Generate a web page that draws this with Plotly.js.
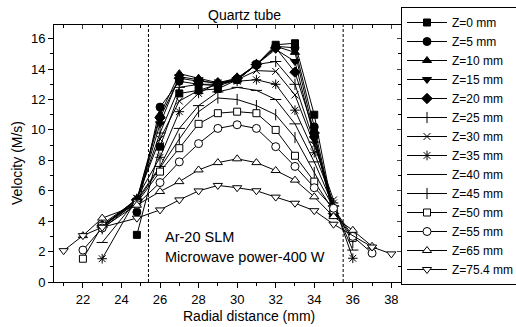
<!DOCTYPE html>
<html>
<head>
<meta charset="utf-8">
<script src="https://cdn.plot.ly/plotly-3.0.1.min.js"></script>
<style>html,body{margin:0;padding:0;background:#fff;}#chart{width:516px;height:327px;}</style>
</head>
<body>
<div id="chart"></div>
<script>
// ---- data ----
const seriesNames = ["Z=0 mm","Z=5 mm","Z=10 mm","Z=15 mm","Z=20 mm","Z=25 mm","Z=30 mm","Z=35 mm","Z=40 mm","Z=45 mm","Z=50 mm","Z=55 mm","Z=65 mm","Z=75.4 mm"];

const xZ0  = [24.8, 26, 27, 28, 29, 30, 31, 32, 33, 34, 35];
const yZ0  = [3.1, 8.9, 12.4, 12.6, 12.7, 13.3, 14.3, 15.6, 15.7, 11.0, 4.5];
const xZ5  = [24.8, 26, 27, 28, 29, 30, 31, 32, 33, 34, 35];
const yZ5  = [4.6, 11.5, 13.2, 13.0, 12.9, 13.3, 14.3, 15.5, 15.4, 10.2, 4.5];
const xZ10 = [23, 24.8, 26, 27, 28, 29, 30, 31, 32, 33, 34, 35];
const yZ10 = [3.8, 5.4, 11.0, 13.7, 13.4, 13.1, 13.3, 14.3, 15.5, 15.1, 9.7, 4.4];
const xZ15 = [23, 24.8, 26, 27, 28, 29, 30, 31, 32, 33, 34, 35];
const yZ15 = [3.7, 5.3, 10.4, 13.5, 13.3, 13.0, 13.3, 14.3, 15.3, 14.5, 9.4, 4.4];
const xZ20 = [23, 24.8, 26, 27, 28, 29, 30, 31, 32, 33, 34, 35];
const yZ20 = [3.7, 5.4, 10.8, 13.4, 13.2, 13.1, 13.4, 14.3, 15.4, 13.8, 9.8, 4.5];
const xZ25 = [23, 24.8, 26, 27, 28, 29, 30, 31, 32, 33, 34, 35];
const yZ25 = [3.6, 5.4, 9.8, 12.8, 13.0, 13.0, 13.4, 14.3, 14.5, 13.0, 9.2, 5.0];
const xZ30 = [23, 24.8, 26, 27, 28, 29, 30, 31, 32, 33, 34, 35];
const yZ30 = [3.6, 5.5, 9.4, 11.9, 12.6, 13.0, 13.3, 13.9, 13.85, 12.3, 9.0, 5.4];
const xZ35 = [23, 24.8, 26, 27, 28, 29, 30, 31, 32, 33, 34, 35, 36];
const yZ35 = [1.53, 5.5, 8.2, 11.2, 12.4, 13.1, 13.2, 13.3, 13.0, 11.3, 8.5, 5.2, 1.56];
const xZ40 = [23, 24.8, 26, 27, 28, 29, 30, 31, 32, 33, 34, 35, 36];
const yZ40 = [2.6, 5.4, 7.6, 10.1, 11.6, 12.5, 12.8, 12.6, 12.0, 10.4, 7.9, 5.0, 2.1];
const xZ45 = [23, 24.8, 26, 27, 28, 29, 30, 31, 32, 33, 34, 35, 36];
const yZ45 = [3.5, 5.3, 7.5, 9.4, 11.2, 12.1, 12.0, 11.6, 11.0, 9.5, 7.2, 4.9, 2.6];
const xZ50 = [22, 23, 24.8, 26, 27, 28, 29, 30, 31, 32, 33, 34, 35, 36];
const yZ50 = [1.53, 3.7, 5.2, 7.26, 8.8, 10.4, 11.1, 11.2, 11.1, 10.0, 8.3, 6.6, 4.7, 2.9];
const xZ55 = [22, 23, 24.8, 26, 27, 28, 29, 30, 31, 32, 33, 34, 35, 36, 37];
const yZ55 = [2.1, 3.55, 5.1, 6.54, 7.9, 9.1, 10.1, 10.34, 10.1, 8.9, 7.6, 6.2, 4.85, 3.0, 1.9];
const xZ65 = [22, 23, 24.8, 26, 27, 28, 29, 30, 31, 32, 33, 34, 35, 36, 37];
const yZ65 = [3.05, 4.2, 5.05, 5.95, 6.6, 7.37, 7.85, 8.1, 7.85, 7.33, 6.7, 5.6, 4.3, 3.4, 2.35];
const xZ75 = [21, 22, 23, 24.8, 26, 27, 28, 29, 30, 31, 32, 33, 34, 35, 37, 38];
const yZ75 = [2.06, 3.05, 3.6, 4.2, 4.74, 5.4, 5.99, 6.35, 6.2, 6.0, 5.58, 5.18, 4.69, 3.8, 2.3, 1.85];

const xTickVals = [22, 24, 26, 28, 30, 32, 34, 36, 38];
const yTickVals = [0, 2, 4, 6, 8, 10, 12, 14, 16];
const wallPositions = [25.4, 35.5];

// ---- styles ----
const xs = [xZ0,xZ5,xZ10,xZ15,xZ20,xZ25,xZ30,xZ35,xZ40,xZ45,xZ50,xZ55,xZ65,xZ75];
const ys = [yZ0,yZ5,yZ10,yZ15,yZ20,yZ25,yZ30,yZ35,yZ40,yZ45,yZ50,yZ55,yZ65,yZ75];
const symbols = ["square","circle","triangle-up","triangle-down","diamond","cross-thin","x-thin","asterisk","line-ew","line-ns","square","circle","triangle-up","triangle-down"];
const fills   = ["black","black","black","black","black","black","black","black","black","black","white","white","white","white"];
const sizes   = [7,8,8,8,8,8,7,8,8,8,7,8,8,8];

const traces = seriesNames.map((n,i)=>({
  type:'scatter', mode:'lines+markers', name:n,
  x:xs[i], y:ys[i],
  line:{color:'black', width:1},
  marker:{symbol:symbols[i], size:sizes[i], color:fills[i], line:{color:'black', width:1}},
  cliponaxis:false
}));

const font = {family:'Liberation Sans, Arial, sans-serif', color:'black'};

const layout = {
  width:516, height:327,
  margin:{l:54, r:115, t:25, b:45, autoexpand:false},
  paper_bgcolor:'white', plot_bgcolor:'white',
  font:Object.assign({size:13}, font),
  showlegend:true,
  legend:{x:1, xanchor:'left', y:1+18/257, yanchor:'top', bordercolor:'black', borderwidth:1, bgcolor:'white',
          font:Object.assign({size:12}, font), itemwidth:40, tracegroupgap:0, maxheight:320},
  xaxis:{range:[20.5,38.5], tickvals:xTickVals, ticks:'outside', ticklen:5, tickwidth:1, tickcolor:'black',
         minor:{dtick:1, tick0:21, ticks:'outside', ticklen:3, tickcolor:'black', showgrid:false},
         showline:true, linecolor:'black', linewidth:1, showgrid:false, zeroline:false,
         tickfont:Object.assign({size:13}, font)},
  yaxis:{range:[0,16.9], tickvals:yTickVals, ticks:'outside', ticklen:5, tickwidth:1, tickcolor:'black',
         minor:{dtick:1, ticks:'outside', ticklen:3, tickcolor:'black', showgrid:false},
         showline:true, linecolor:'black', linewidth:1, showgrid:false, zeroline:false,
         tickfont:Object.assign({size:13}, font)},
  xaxis2:{overlaying:'x', side:'top', matches:'x', range:[20.5,38.5], tickvals:xTickVals, ticks:'inside', ticklen:4,
          minor:{dtick:1, tick0:21, ticks:'inside', ticklen:3, tickcolor:'black'},
          showticklabels:false, showline:true, linecolor:'black', showgrid:false, zeroline:false},
  yaxis2:{overlaying:'y', side:'right', range:[0,16.9], tickvals:yTickVals, ticks:'inside', ticklen:4,
          minor:{dtick:1, ticks:'inside', ticklen:3, tickcolor:'black'},
          showticklabels:false, showline:true, linecolor:'black', showgrid:false, zeroline:false},
  shapes: wallPositions.map(v=>({type:'line', xref:'x', yref:'paper', x0:v, x1:v, y0:0, y1:1,
          line:{color:'black', width:1, dash:'3px,2px'}})),
  annotations:[
    {text:'Quartz tube', xref:'paper', yref:'paper', x:(244.5-54)/347, y:1+10/257, xanchor:'center', yanchor:'middle', showarrow:false, font:Object.assign({size:14}, font)},
    {text:'Radial distance (mm)', xref:'paper', yref:'paper', x:(249-54)/347, y:-(316-282)/257, xanchor:'center', yanchor:'middle', showarrow:false, font:Object.assign({size:14}, font)},
    {text:'Velocity (M/s)', xref:'paper', yref:'paper', x:-(54-17)/347, y:(282-163)/257, xanchor:'center', yanchor:'middle', textangle:-90, showarrow:false, font:Object.assign({size:14}, font)},
    {text:'Ar-20 SLM', xref:'paper', yref:'paper', x:(162.5-54)/347, y:(282-237)/257, xanchor:'left', yanchor:'middle', showarrow:false, font:Object.assign({size:14.5}, font)},
    {text:'Microwave power-400 W', xref:'paper', yref:'paper', x:(162.5-54)/347, y:(282-257)/257, xanchor:'left', yanchor:'middle', showarrow:false, font:Object.assign({size:14.5}, font)}
  ]
};

// invisible trace to activate the mirrored top/right axes
traces.push({type:'scatter', x:[20.5], y:[0], xaxis:'x2', yaxis:'y2', mode:'markers', marker:{opacity:0}, showlegend:false, hoverinfo:'skip'});

Plotly.newPlot('chart', traces, layout, {staticPlot:true, displayModeBar:false});
</script>
</body>
</html>
